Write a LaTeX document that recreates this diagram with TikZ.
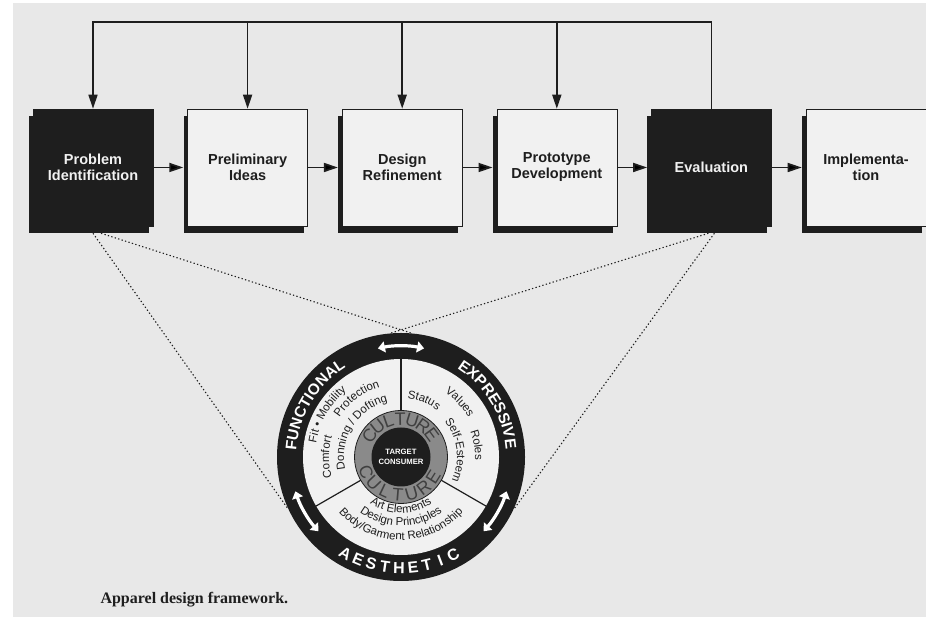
\documentclass[tikz,border=0pt]{standalone}
\usepackage{fontspec}
\setmainfont{Liberation Sans}
\newfontfamily\captionfont{Liberation Serif}
\usetikzlibrary{arrows.meta,calc,positioning,shadows,decorations.text}

\definecolor{paper}{RGB}{232,232,232}
\definecolor{face}{RGB}{241,241,241}
\definecolor{ink}{RGB}{30,30,30}
\definecolor{ringgrey}{RGB}{138,138,138}

\newcommand{\wheelfont}{\fontsize{11.5}{13}\selectfont\color{ink}}
\newcommand{\ringfont}{\fontsize{15.5}{15.5}\selectfont\bfseries\color{white}}
\newcommand{\wheeltext}[5][\wheelfont]{%
  \path[decorate,decoration={text along path,text align=center,text={|#1|#5}}]
    ($(hub)+({#2+(#3)}:#4pt)$) arc[start angle={#2+(#3)},end angle={#2-(#3)},radius=#4pt];}

\tikzset{
  stage/.style={draw=ink,line width=0.6pt,fill=face,text=ink,minimum width=120pt,minimum height=117pt,inner sep=0pt,align=center,
    font=\fontsize{14.5}{16}\selectfont\bfseries,general shadow={fill=ink,shadow xshift=-4pt,shadow yshift=-7pt}},
  keystage/.style={stage,fill=ink,text=face},
  flow/.style={->,draw=ink,line width=1.7pt},
  zoomline/.style={draw=ink,line width=1.1pt,dash pattern=on 1.3pt off 2.3pt},
  spoke/.style={draw=ink,line width=1.2pt},
  ringarrow/.style={draw=white,line width=3.2pt,{Triangle[length=7pt,width=11pt]}-{Triangle[length=7pt,width=11pt]}},
  ringletter/.style={text=white,inner sep=0pt,font=\fontsize{16}{16}\selectfont\bfseries},
  cultureletter/.style={text=ink!85,inner sep=0pt,font=\fontsize{18}{18}\selectfont}
}

\begin{document}
\begin{tikzpicture}[x=1pt,y=1pt,>={Triangle[length=14pt,width=9pt]},node distance=34pt]
\fill[white] (0,0) rectangle (926,617);
\fill[paper] (13,0) rectangle (926,614);
\useasboundingbox (0,0) rectangle (926,617);

\node[keystage] (prob) at (93,449.5) {Problem\\Identification};
\node[stage] [right=of prob] (prelim) {Preliminary\\Ideas};
\node[stage] [right=of prelim] (design) {Design\\Refinement};
\node[stage] [right=of design] (proto) {Prototype\\Development};
\node[keystage] [right=of proto] (eval) {Evaluation};
\node[stage] [right=of eval] (impl) {Implementa-\\tion};

\coordinate (rail) at (0,595);
\draw[flow] (eval.north) -- (eval.north |- rail) -- (prob.north |- rail) -- (prob.north);
\foreach \s in {prelim,design,proto}
  \draw[flow] (\s.north |- rail) -- (\s.north);
\path[flow,shorten >=4pt]
  (prob) edge (prelim)
  (prelim) edge (design)
  (design) edge (proto)
  (proto) edge (eval)
  (eval) edge (impl);

\node[circle,fill=ink,minimum size=248pt,inner sep=0pt] (wheel) at (401,160) {};
\coordinate (hub) at (wheel.center);
\fill[face] (hub) circle[radius=98pt];
\foreach \a in {90,210,330}
  \draw[spoke] ($(hub)+(\a:46pt)$) -- ($(hub)+(\a:98.5pt)$);
\filldraw[fill=ringgrey,draw=ink,line width=0.8pt] (hub) circle[radius=46.5pt];
\fill[ink] (hub) circle[radius=29.5pt];
\node[text=white,align=center,font=\fontsize{7.7}{10}\selectfont\bfseries] (target) at (hub) {TARGET\\CONSUMER};
\foreach \a in {90,210,330}
  \draw[ringarrow] ($(hub)+({\a+12}:111pt)$) arc[start angle={\a+12},end angle={\a-12},radius=111pt];

\wheeltext[\ringfont]{149}{45}{105}{FUNCTIONAL}
\wheeltext[\ringfont]{31}{45}{105}{EXPRESSIVE}
\foreach \ch [count=\i,evaluate=\i as \a using 240+(\i-1)*7.25] in {A,E,S,T,H,E,T,I,C}
  \node[ringletter,rotate=\a+90] at ($(hub)+(\a:111pt)$) {\ch};
\foreach \ch [count=\i,evaluate=\i as \a using 146-(\i-1)*18.3] in {C,U,L,T,U,R,E}
  \node[cultureletter,rotate=\a-90] at ($(hub)+(\a:38pt)$) {\ch};
\foreach \ch [count=\i,evaluate=\i as \a using 203+(\i-1)*20.8] in {C,U,L,T,U,R,E}
  \node[cultureletter,rotate=\a+90] at ($(hub)+(\a:38pt)$) {\ch};

\wheeltext{150}{40}{86}{Fit • Mobility}
\wheeltext{180}{30}{72}{Comfort}
\wheeltext{127}{30}{73}{Protection}
\wheeltext{148}{55}{57}{Donning / Dofting}
\wheeltext{68}{30}{59}{Status}
\wheeltext{43}{30}{78}{Values}
\wheeltext{9}{30}{74}{Roles}
\wheeltext{7}{45}{56}{Self-Esteem}
\wheeltext{270}{-60}{56}{Art Elements}
\wheeltext{270}{-60}{69}{Design Principles}
\wheeltext{270}{-70}{83}{Body/Garment Relationship}

\draw[zoomline] ([yshift=-7pt]prob.south) -- (wheel.205);
\draw[zoomline] ([xshift=8pt,yshift=-7pt]prob.south) -- (wheel.85);
\draw[zoomline] ([xshift=3pt,yshift=-7pt]eval.south) -- (wheel.335);
\draw[zoomline] ([xshift=-3pt,yshift=-7pt]eval.south) -- (wheel.95);

\node[anchor=base west,text=ink,font=\captionfont\bfseries\fontsize{16}{18}\selectfont] (caption) at (97,13) {Apparel design framework.};
\end{tikzpicture}
\end{document}
